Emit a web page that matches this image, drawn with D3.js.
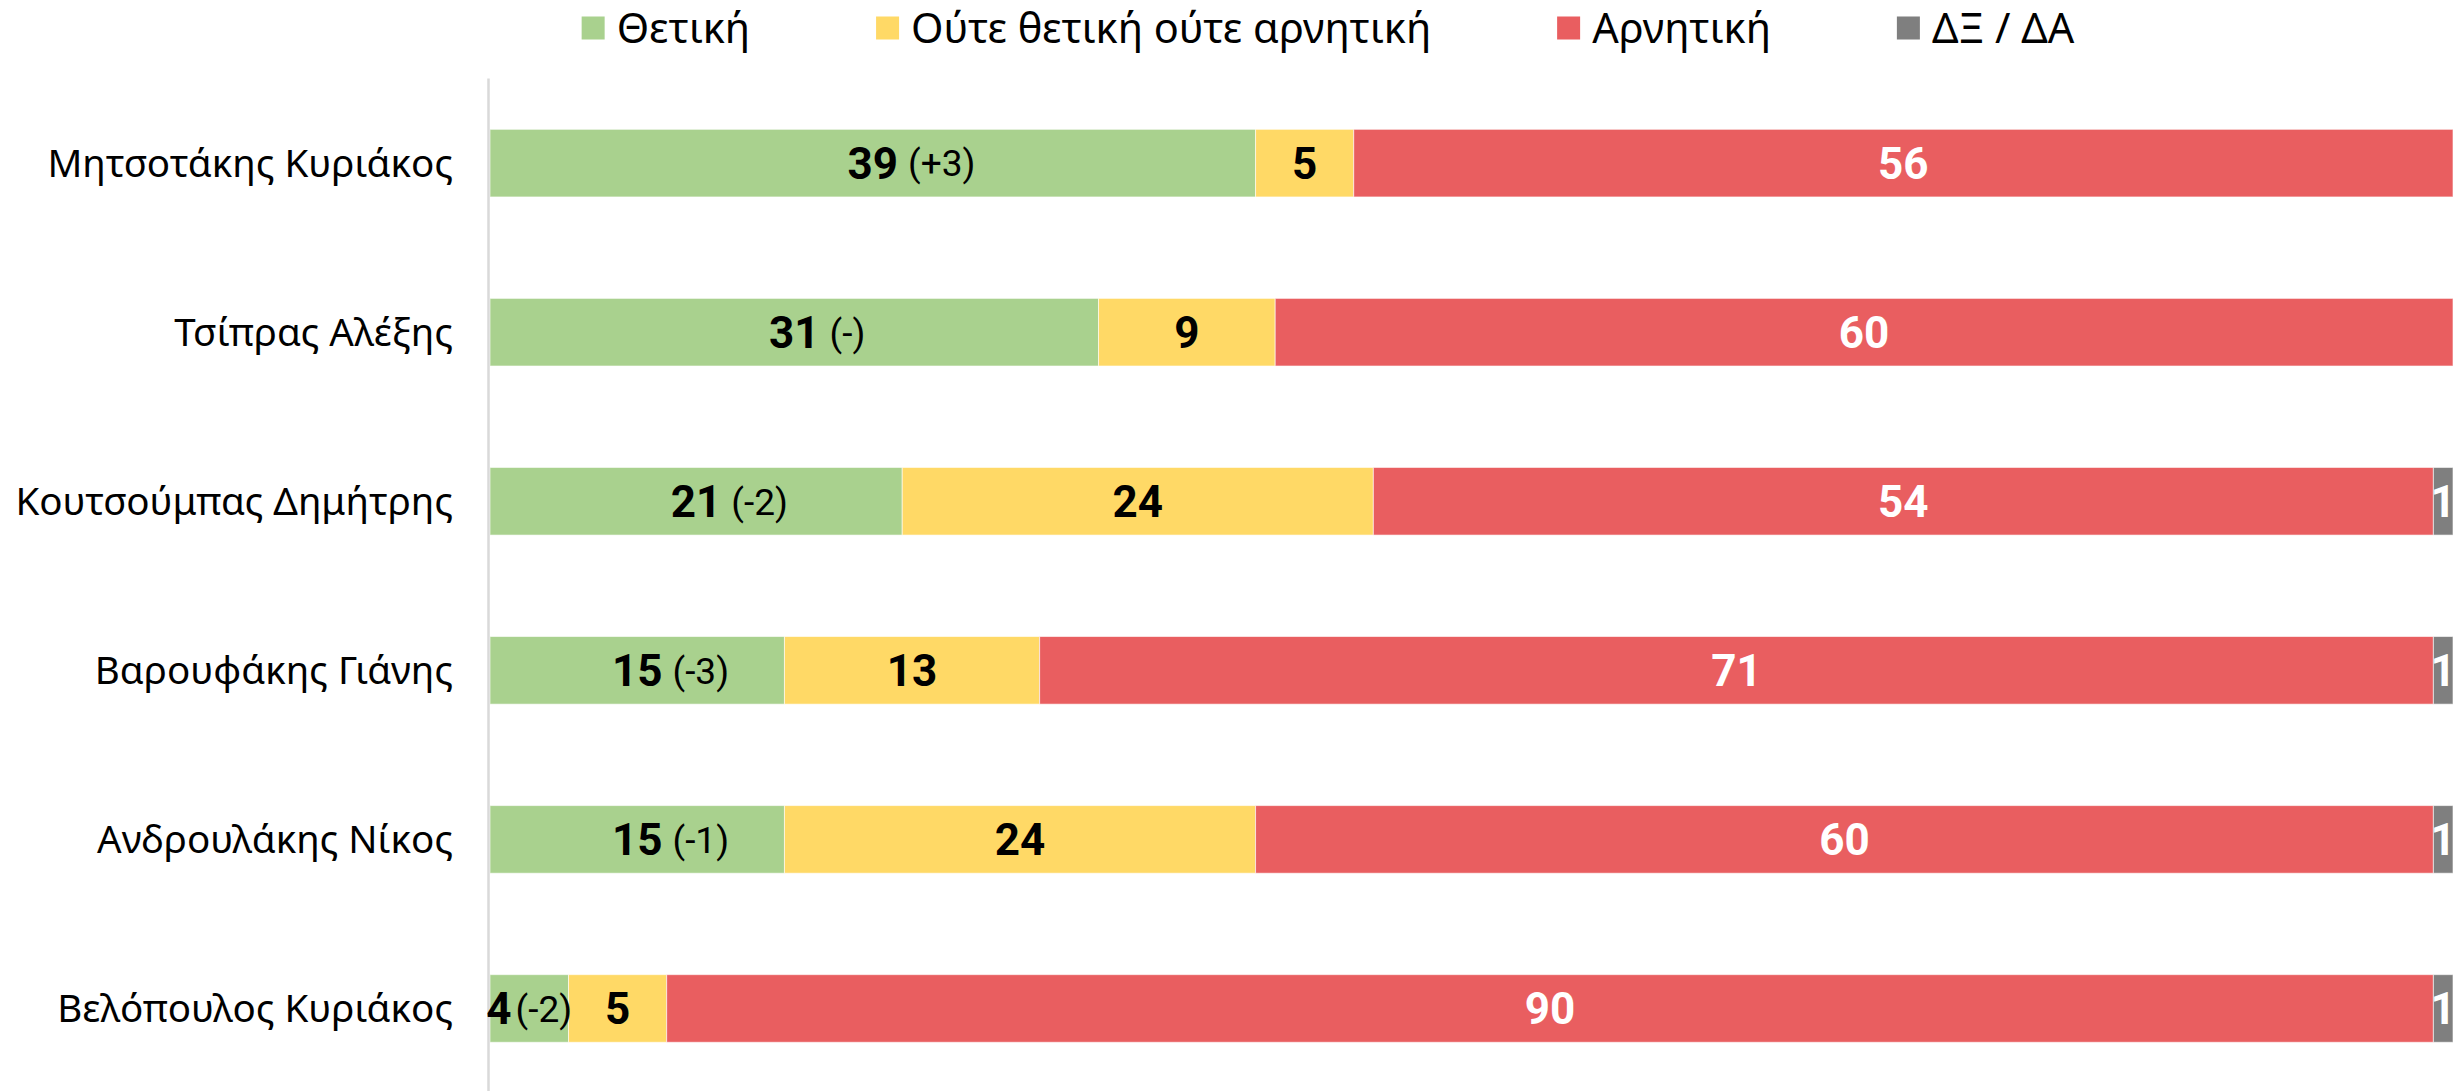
<!DOCTYPE html>
<html>
<head>
<meta charset="utf-8">
<script src="https://cdnjs.cloudflare.com/ajax/libs/d3/7.8.5/d3.min.js"></script>
<style>
  body { margin: 0; background: #fff; }
  svg { display: block; }
</style>
</head>
<body>
<div id="chartContainer"></div>
<script>
var names = ['Μητσοτάκης Κυριάκος', 'Τσίπρας Αλέξης', 'Κουτσούμπας Δημήτρης', 'Βαρουφάκης Γιάνης', 'Ανδρουλάκης Νίκος', 'Βελόπουλος Κυριάκος'];
var positive = [39, 31, 21, 15, 15, 4];
var neutral = [5, 9, 24, 13, 24, 5];
var negative = [56, 60, 54, 71, 60, 90];
var dkna = [0, 0, 1, 1, 1, 1];
var changes = ['(+3)', '(-)', '(-2)', '(-3)', '(-1)', '(-2)'];
var seriesNames = ['Θετική', 'Ούτε θετική ούτε αρνητική', 'Αρνητική', 'ΔΞ / ΔΑ'];

var colors = ['#A9D18E', '#FFD966', '#E95E60', '#7F7F7F'];
var labelColors = ['#000', '#000', '#fff', '#fff'];

var width = 2453;
var height = 1091;
var plotLeft = 490;
var plotTop = 78.6;
var labelFont = '"Noto Sans", "Open Sans", sans-serif';
var numFont = 'Roboto, "Liberation Sans", sans-serif';

var series = [positive, neutral, negative, dkna];

var svg = d3.select('#chartContainer').
append('svg').
attr('width', width).
attr('height', height);

svg.append('rect').attr('width', width).attr('height', height).attr('fill', '#fff');

var x = d3.scaleLinear().
domain([0, 100]).
range([plotLeft, width]);

var y = d3.scaleBand().
domain(names).
range([plotTop, height + 2]).
paddingInner(0.6).
paddingOuter(0.3);

// stacked segments
var rows = names.map(function (n, i) {
  var acc = 0;
  return series.map(function (s, k) {
    var seg = { name: n, row: i, k: k, v: s[i], x0: acc, x1: acc + s[i] };
    acc += s[i];
    return seg;
  });
});
var segs = [].concat.apply([], rows).filter(function (d) {return d.v > 0;});

svg.selectAll('rect.bar').
data(segs).
enter().
append('rect').
attr('class', 'bar').
attr('x', function (d) {return x(d.x0);}).
attr('y', function (d) {return y(d.name);}).
attr('width', function (d) {return x(d.x1) - x(d.x0);}).
attr('height', y.bandwidth()).
attr('fill', function (d) {return colors[d.k];}).
attr('stroke', 'rgba(255,255,255,0.6)').
attr('stroke-width', 1);

// category axis line
svg.append('line').
attr('x1', plotLeft - 1.5).
attr('x2', plotLeft - 1.5).
attr('y1', plotTop).
attr('y2', height).
attr('stroke', '#D9D9D9').
attr('stroke-width', 2.5);

// category labels
svg.selectAll('text.cat').
data(names).
enter().
append('text').
attr('class', 'cat').
attr('x', plotLeft - 37).
attr('y', function (d) {return y(d) + y.bandwidth() / 2;}).
attr('dy', '0.36em').
attr('text-anchor', 'end').
style('font-family', labelFont).
style('font-size', '38.5px').
attr('fill', '#000').
text(function (d) {return d;});

// value labels
var vlab = svg.selectAll('g.vlab').
data(segs).
enter().
append('g').
attr('class', 'vlab');

vlab.each(function (d) {
  var g = d3.select(this);
  var cx = (x(d.x0) + x(d.x1)) / 2;
  var cy = y(d.name) + y.bandwidth() / 2;
  var num = g.append('text').
  attr('y', cy).
  attr('dy', '0.36em').
  style('font-family', numFont).
  style('font-weight', 'bold').
  style('font-size', '44px').
  attr('fill', labelColors[d.k]).
  text(d.v);
  if (d.k === 0) {
    var ch = g.append('text').
    attr('y', cy).
    attr('dy', '0.36em').
    style('font-family', numFont).
    style('font-size', '37px').
    attr('fill', '#000').
    text(changes[d.row]);
    var nw = num.node().getComputedTextLength();
    var cw = ch.node().getComputedTextLength();
    var gap = 10;
    var segW = x(d.x1) - x(d.x0);
    var nx;
    if (nw + gap + cw > segW) {
      gap = 4;
      nx = cx - (nw + gap + cw) / 2;
    } else {
      nx = cx - nw / 2;
    }
    num.attr('x', nx);
    ch.attr('x', nx + nw + gap);
  } else {
    num.attr('x', cx).attr('text-anchor', 'middle');
  }
});

// legend
var legend = svg.append('g').attr('class', 'legend');
var lx = 0;
seriesNames.forEach(function (s, k) {
  var item = legend.append('g').attr('transform', 'translate(' + lx + ',0)');
  item.append('rect').
  attr('x', 0).
  attr('y', 16.5).
  attr('width', 23).
  attr('height', 23).
  attr('fill', colors[k]);
  var t = item.append('text').
  attr('x', 35).
  attr('y', 28).
  attr('dy', '0.36em').
  style('font-family', labelFont).
  style('font-size', '41.5px').
  attr('fill', '#000').
  text(s);
  lx += 35 + t.node().getComputedTextLength() + 126;
});
var legendW = lx - 126;
legend.attr('transform', 'translate(' + (1328 - legendW / 2) + ',0)');
</script>
</body>
</html>
